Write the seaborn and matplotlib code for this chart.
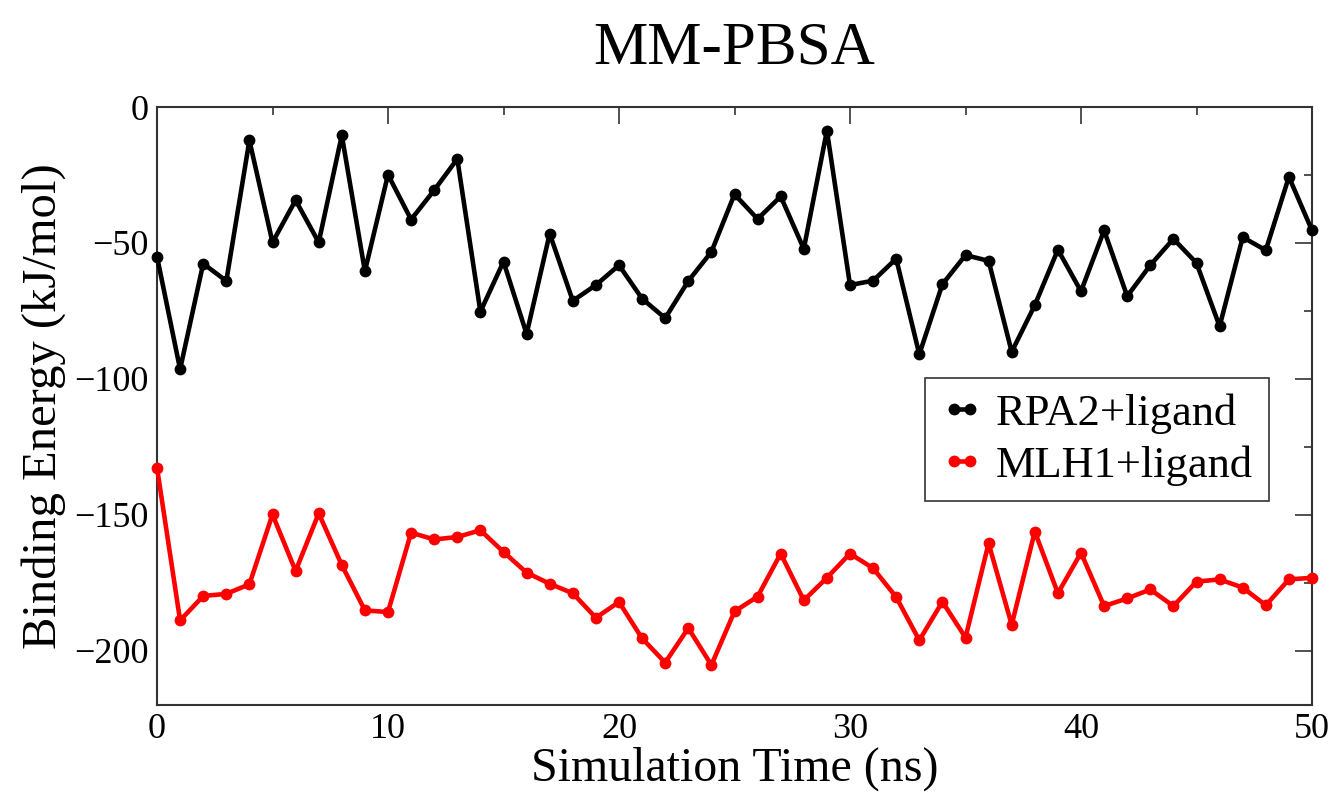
import matplotlib
matplotlib.use("Agg")
import matplotlib.pyplot as plt
import pandas as pd
import seaborn as sns
from matplotlib.ticker import MultipleLocator

# simulation time (ns)
time_ns = list(range(0, 51))

# binding energy (kJ/mol)
rpa2_energy = [
    -55, -96.5, -57.6, -64, -12.3, -49.8, -34.3, -49.8, -10.4, -60.4,
    -24.9, -41.4, -30.6, -19.1, -75.3, -56.9, -83.5, -46.6, -71.3, -65.5,
    -58.2, -70.5, -77.7, -64, -53.3, -32.1, -41.2, -32.9, -52.2, -8.7,
    -65.5, -63.9, -55.8, -91, -65.2, -54.5, -56.6, -90.1, -72.9, -52.5,
    -67.8, -45.4, -69.6, -58.2, -48.5, -57.4, -80.7, -47.9, -52.7, -25.7,
    -45.4,
]
mlh1_energy = [
    -132.7, -188.9, -179.9, -179.1, -175.6, -149.9, -170.7, -149.5, -168.5, -185.2,
    -185.8, -156.6, -159.1, -158.2, -155.7, -163.7, -171.3, -175.4, -178.9, -187.9,
    -182.1, -195.5, -204.4, -191.7, -205.3, -185.6, -180.1, -164.3, -181.5, -173.2,
    -164.3, -169.7, -180.3, -196.2, -182, -195.2, -160.5, -190.5, -156.2, -178.9,
    -164, -183.6, -180.8, -177.5, -183.6, -174.6, -173.8, -176.8, -183.3, -173.8,
    -173.2,
]
series_names = ["RPA2+ligand", "MLH1+ligand"]
series_colors = ["black", "red"]

df = pd.concat(
    [
        pd.DataFrame({"time": time_ns, "energy": rpa2_energy, "system": series_names[0]}),
        pd.DataFrame({"time": time_ns, "energy": mlh1_energy, "system": series_names[1]}),
    ],
    ignore_index=True,
)

sns.set_theme(style="white")
plt.rcParams["font.family"] = ["Liberation Serif", "DejaVu Serif"]
plt.rcParams["text.color"] = "black"
plt.rcParams["axes.labelcolor"] = "black"
plt.rcParams["axes.unicode_minus"] = True

fig = plt.figure(figsize=(13.44, 7.92), dpi=100)
ax = fig.add_axes([157 / 1344, 1 - 705 / 792, (1312 - 157) / 1344, (705 - 107) / 792])

for name, color in zip(series_names, series_colors):
    sns.lineplot(
        data=df[df["system"] == name],
        x="time",
        y="energy",
        color=color,
        marker="o",
        markersize=8.5,
        markeredgewidth=0,
        linewidth=3.3,
        label=name,
        clip_on=False,
        zorder=3,
        ax=ax,
    )

ax.set_xlim(0, 50)
ax.set_ylim(-220, 0)
ax.xaxis.set_major_locator(MultipleLocator(10))
ax.xaxis.set_minor_locator(MultipleLocator(5))
ax.yaxis.set_major_locator(MultipleLocator(50))
ax.yaxis.set_minor_locator(MultipleLocator(25))
ax.tick_params(which="both", direction="in", top=True, right=True, colors="#333333",
               labelcolor="black", width=1.2)
ax.tick_params(which="major", length=12, labelsize=26, pad=6)
ax.tick_params(which="minor", length=6)
for spine in ax.spines.values():
    spine.set_linewidth(1.5)
    spine.set_color("#333333")

ax.set_title("MM-PBSA", fontsize=44, pad=31, color="black")
ax.set_xlabel("Simulation Time (ns)", fontsize=34.5, labelpad=0, color="black")
ax.set_ylabel("Binding Energy (kJ/mol)", fontsize=35, labelpad=6, color="black")

leg = ax.legend(
    loc="upper left",
    bbox_to_anchor=(0.665, 0.547),
    fontsize=32,
    numpoints=2,
    handlelength=0.95,
    handletextpad=0.3,
    labelspacing=0.25,
    borderpad=0.35,
    borderaxespad=0,
    fancybox=False,
    frameon=True,
    edgecolor="#333333",
    framealpha=1,
)
leg.get_frame().set_linewidth(1.2)
for text in leg.get_texts():
    text.set_color("black")

fig.savefig("out.png", dpi=100)
